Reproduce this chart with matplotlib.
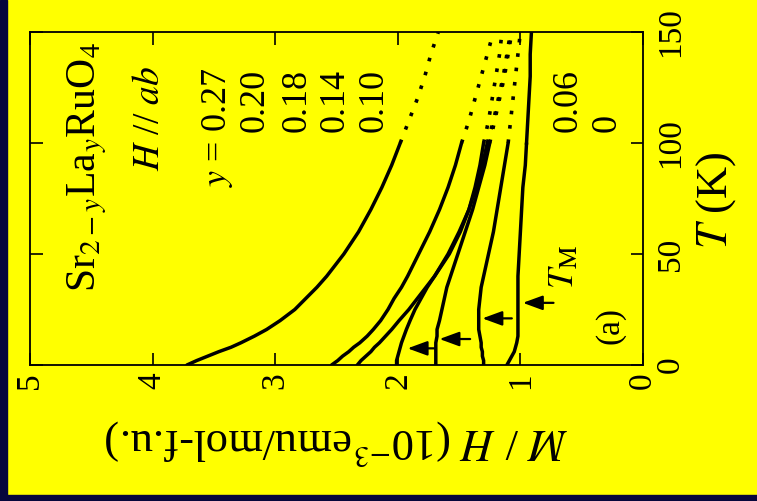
import matplotlib.pyplot as plt
from matplotlib.patches import Rectangle

plt.rcParams['font.family'] = ['Liberation Serif', 'DejaVu Serif']
plt.rcParams['mathtext.fontset'] = 'stix'

# La content y and M/H (10^-3 emu/mol-f.u.) versus T (K)
y_labels = ['0.27', '0.20', '0.18', '0.14', '0.10', '0.06', '0']

T_solid = [0, 2, 4, 6, 8, 10, 13, 16, 20, 25, 30, 35, 40, 50, 60, 70, 80, 90, 100]
T_dot = [100, 110, 120, 130, 140, 150]

mh_027 = [3.72, 3.64, 3.55, 3.46, 3.36, 3.28, 3.17, 3.07, 2.96, 2.84, 2.75, 2.66, 2.58,
          2.44, 2.32, 2.22, 2.13, 2.05, 1.98]
mh_020 = [2.54, 2.49, 2.45, 2.40, 2.36, 2.31, 2.25, 2.20, 2.14, 2.08, 2.03, 1.97, 1.92,
          1.83, 1.74, 1.66, 1.59, 1.53, 1.48]
mh_018 = [2.33, 2.30, 2.26, 2.22, 2.19, 2.15, 2.10, 2.05, 1.99, 1.91, 1.84, 1.77, 1.70,
          1.58, 1.49, 1.42, 1.37, 1.33, 1.30]
mh_014 = [2.01, 2.01, 2.00, 1.99, 1.98, 1.97, 1.95, 1.93, 1.90, 1.86, 1.81, 1.76, 1.70,
          1.59, 1.50, 1.42, 1.36, 1.31, 1.27]
mh_010 = [1.69, 1.69, 1.69, 1.69, 1.69, 1.69, 1.68, 1.68, 1.66, 1.64, 1.62, 1.60, 1.57,
          1.51, 1.45, 1.39, 1.34, 1.29, 1.25]
mh_006 = [1.30, 1.30, 1.31, 1.31, 1.32, 1.32, 1.33, 1.34, 1.34, 1.34, 1.33, 1.32, 1.30,
          1.26, 1.22, 1.19, 1.16, 1.13, 1.10]
mh_000 = [1.11, 1.09, 1.07, 1.05, 1.04, 1.03, 1.02, 1.02, 1.02, 1.02, 1.02, 1.02, 1.02,
          1.01, 1.00, 0.99, 0.98, 0.96, 0.95]

# high temperature part, drawn dotted (y = 0 stays solid)
mh_027_hi = [1.98, 1.91, 1.84, 1.78, 1.73, 1.67]
mh_020_hi = [1.48, 1.42, 1.37, 1.32, 1.27, 1.22]
mh_018_hi = [1.30, 1.26, 1.23, 1.20, 1.17, 1.15]
mh_014_hi = [1.27, 1.22, 1.18, 1.14, 1.11, 1.08]
mh_010_hi = [1.25, 1.21, 1.17, 1.13, 1.10, 1.07]
mh_006_hi = [1.10, 1.08, 1.06, 1.04, 1.02, 1.00]
mh_000_hi = [0.95, 0.94, 0.93, 0.92, 0.92, 0.91]

# T_M arrows: temperature, M/H at the tip, M/H at the tail
tm_T = [7.5, 11.7, 21, 28]
tm_tip = [1.92, 1.66, 1.31, 0.98]
tm_tail = [1.70, 1.41, 1.07, 0.73]

low = [mh_027, mh_020, mh_018, mh_014, mh_010, mh_006, mh_000]
high = [mh_027_hi, mh_020_hi, mh_018_hi, mh_014_hi, mh_010_hi, mh_006_hi, mh_000_hi]

W, H = 757, 501
fig = plt.figure(figsize=(W / 100, H / 100), dpi=100, facecolor='#ffff00')
ax = fig.add_axes([30 / W, 1 - 365 / H, 613 / W, 333 / H])
ax.set_facecolor('#ffff00')

# dark frame strips
fig.patches.append(Rectangle((0, 0), 7 / W, 1, transform=fig.transFigure,
                             color='#06063c', zorder=0))
fig.patches.append(Rectangle((0, 0), 1, 6 / H, transform=fig.transFigure,
                             color='#06063c', zorder=0))

# the plot is turned on its side: M/H runs right-to-left, T runs upward
for lo, hi, lab in zip(low, high, y_labels):
    ax.plot(lo, T_solid, color='black', lw=2.5, solid_capstyle='round')
    if lab == '0':
        ax.plot(hi, T_dot, color='black', lw=2.5)
    else:
        ax.plot(hi, T_dot, color='black', lw=2.6, linestyle=(0, (1, 3.0)))

for t, tip, tail in zip(tm_T, tm_tip, tm_tail):
    ax.annotate('', xy=(tip, t), xytext=(tail, t),
                arrowprops=dict(arrowstyle='-|>,head_length=0.6,head_width=0.22',
                                color='black', lw=1.6, mutation_scale=20,
                                shrinkA=0, shrinkB=0))

ax.set_xlim(5, 0)
ax.set_ylim(0, 150)
ax.set_xticks([0, 1, 2, 3, 4, 5])
ax.set_yticks([0, 50, 100, 150])
for s in ax.spines.values():
    s.set_linewidth(1.3)
ax.tick_params(axis='x', direction='in', top=True, bottom=True, length=9, width=1.2,
               labelsize=24, labelrotation=90, pad=5)
ax.tick_params(axis='y', direction='in', left=True, right=True, labelleft=False,
               labelright=True, length=9, width=1.2, labelsize=24,
               labelrotation=90, pad=9)
for lbl in ax.get_yticklabels():
    lbl.set_va('center')

# sample and field labels
ax.text(4.53, 89, r'Sr$_{2-y}$La$_y$RuO$_4$', rotation=90, fontsize=30,
        ha='center', va='center')
ax.text(4.02, 111, r'$H$ // $ab$', rotation=90, fontsize=27,
        ha='center', va='center')

# y values, one per line
y_pos = [3.47, 3.16, 2.82, 2.51, 2.19, 0.61, 0.29]
for i, (lab, xp) in enumerate(zip(y_labels, y_pos)):
    if i == 0:
        ax.text(xp, 80, r'$y$ = ' + lab, rotation=90, fontsize=26,
                ha='center', va='bottom')
    else:
        ax.text(xp, 105, lab, rotation=90, fontsize=26, ha='center', va='bottom')

ax.text(0.64, 44, r'$T_{\rm M}$', rotation=90, fontsize=26, ha='center', va='center')
ax.text(0.27, 18, '(a)', rotation=90, fontsize=24, ha='center', va='center')

fig.text(716 / W, 1 - 200 / H, r'$T$ (K)', rotation=90, fontsize=32,
         ha='center', va='center')
fig.text(336 / W, 1 - 443 / H, r'$M$ / $H$ (10$^{-3}$emu/mol-f.u.)', rotation=180,
         fontsize=32, ha='center', va='center')

fig.savefig('out.png', dpi=100, facecolor=fig.get_facecolor())
